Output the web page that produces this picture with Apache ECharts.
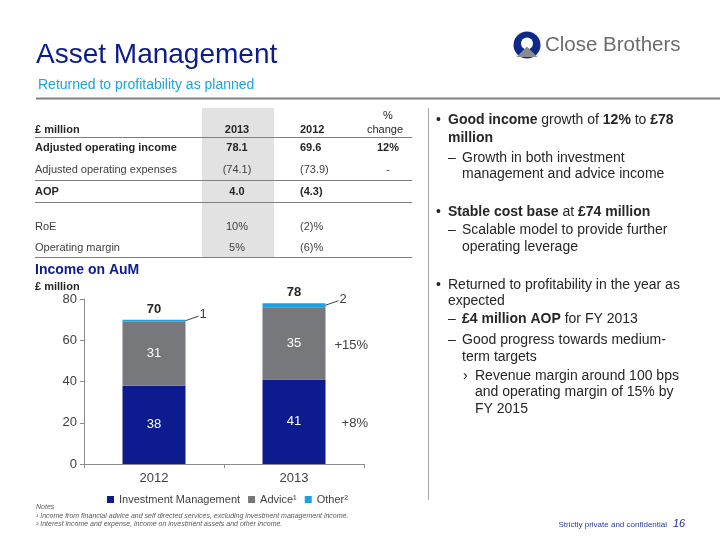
<!DOCTYPE html>
<html><head><meta charset="utf-8">
<script src="https://cdn.jsdelivr.net/npm/echarts@6/dist/echarts.min.js"></script>
<style>html,body{margin:0;padding:0;background:#fff}#c{width:720px;height:540px}</style>
</head><body><div id="c"></div>
<script>
// ---- chart data ----
const categories = ['2012', '2013'];
const investmentManagement = [38, 41];
const advice = [31, 35];
const other = [1, 2];
const totals = [70, 78];
const growthIM = '+8%';
const growthAdvice = '+15%';
const yMin = 0, yMax = 80, yStep = 20;

// ---- table data ----
const tableHeaders = ['£ million', '2013', '2012'];
const tableRowLabels = ['Adjusted operating income', 'Adjusted operating expenses', 'AOP', 'RoE', 'Operating margin'];
const table2013 = ['78.1', '(74.1)', '4.0', '10%', '5%'];
const table2012 = ['69.6', '(73.9)', '(4.3)', '(2)%', '(6)%'];
const tableChange = ['12%', '-', '', '', ''];
const tableBoldRows = [true, false, true, false, false];

// ---- text content ----
const bulletText = [
  '{b|Good income} growth of {b|12%} to {b|£78}',
  '{b|million}',
  'Growth in both investment',
  'management and advice income',
  '{b|Stable cost base} at {b|£74 million}',
  'Scalable model to provide further',
  'operating leverage',
  'Returned to profitability in the year as',
  'expected',
  '{b|£4 million AOP} for FY 2013',
  'Good progress towards medium-',
  'term targets',
  'Revenue margin around 100 bps',
  'and operating margin of 15% by',
  'FY 2015'
];
const bulletLevel = [1, 0, 2, 0, 1, 2, 0, 1, 0, 2, 2, 0, 3, 0, 0];
const bulletIndent = [1, 1, 2, 2, 1, 2, 2, 1, 1, 2, 2, 2, 3, 3, 3];

const F = 'Liberation Sans, Arial, sans-serif';
const C_IM = '#0c1c8f', C_ADV = '#77787b', C_OTH = '#1ba1e2';

const chart = echarts.init(document.getElementById('c'));
chart.setOption({
  animation: false,
  backgroundColor: '#fff',
  textStyle: { fontFamily: F },
  grid: { left: 84, right: 356, top: 299, bottom: 76 },
  legend: {
    left: 102, top: 489, itemWidth: 7, itemHeight: 7, itemGap: 8,
    icon: 'rect',
    textStyle: { fontFamily: F, fontSize: 11, color: '#404040' },
    formatter: function (n) { return n === 'Advice' ? 'Advice\u00b9' : (n === 'Other' ? 'Other\u00b2' : n); },
    data: ['Investment Management', 'Advice', 'Other']
  },
  xAxis: {
    type: 'category', data: categories,
    axisLine: { lineStyle: { color: '#8c8c8c' } },
    axisTick: { show: true, length: 4, lineStyle: { color: '#8c8c8c' } },
    axisLabel: { fontFamily: F, fontSize: 13, color: '#404040', margin: 8 }
  },
  yAxis: {
    type: 'value', min: yMin, max: yMax, interval: yStep,
    axisLine: { show: true, lineStyle: { color: '#8c8c8c' } },
    axisTick: { show: true, length: 4, lineStyle: { color: '#8c8c8c' } },
    splitLine: { show: false },
    axisLabel: { fontFamily: F, fontSize: 13, color: '#404040', margin: 7 }
  },
  series: [
    { name: 'Investment Management', type: 'bar', stack: 'a', data: investmentManagement, barWidth: 63,
      itemStyle: { color: C_IM },
      label: { show: true, position: 'inside', color: '#fff', fontFamily: F, fontSize: 13 } },
    { name: 'Advice', type: 'bar', stack: 'a', data: advice, barWidth: 63,
      itemStyle: { color: C_ADV },
      label: { show: true, position: 'inside', color: '#fff', fontFamily: F, fontSize: 13 } },
    { name: 'Other', type: 'bar', stack: 'a', data: other, barWidth: 63,
      itemStyle: { color: C_OTH },
      label: { show: true, position: 'top', distance: 4, color: '#262626', fontFamily: F, fontSize: 13, fontWeight: 'bold',
        formatter: function (p) { return String(totals[p.dataIndex]); } } }
  ]
});

// ---- graphics ----
const g = [];
function txt(x, y, text, o) {
  o = o || {};
  g.push({ type: 'text', x: x, y: y, silent: true, z: 10,
    style: Object.assign({ text: text, fontFamily: F, fontSize: 11, fill: '#404040', align: 'left', verticalAlign: 'middle' }, o) });
}
function line(x1, y1, x2, y2, color, w) {
  g.push({ type: 'line', silent: true, z: 5, shape: { x1: x1, y1: y1, x2: x2, y2: y2 }, style: { stroke: color, lineWidth: w || 1 } });
}

// title
txt(36, 55, 'Asset Management', { fontSize: 28, fill: '#0c1c8c' });
txt(38, 85, 'Returned to profitability as planned', { fontSize: 14, fill: '#1aa3e0' });
line(36, 98.5, 720, 98.5, '#808080', 2);

// logo
g.push({ type: 'circle', shape: { cx: 527, cy: 45, r: 13.5 }, style: { fill: '#0d2a8a' }, silent: true });
g.push({ type: 'circle', shape: { cx: 527, cy: 43.5, r: 6 }, style: { fill: '#fff' }, silent: true, z: 2 });
g.push({ type: 'polygon', shape: { points: [[527, 46.5], [537.5, 57], [516.5, 57]] }, style: { fill: '#8a8b8e' }, silent: true, z: 3 });
txt(545, 45, 'Close Brothers', { fontSize: 20.5, fill: '#6a6b6e' });

// table
g.push({ type: 'rect', shape: { x: 202, y: 108, width: 72, height: 149 }, style: { fill: '#e2e2e2' }, silent: true, z: 1 });
const rowY = [148, 170, 192, 227, 248];
txt(35, 130, tableHeaders[0], { fontWeight: 'bold', fill: '#262626' });
txt(237, 130, tableHeaders[1], { fontWeight: 'bold', fill: '#262626', align: 'center' });
txt(300, 130, tableHeaders[2], { fontWeight: 'bold', fill: '#262626' });
txt(388, 116, '%', { fill: '#262626', align: 'center' });
txt(385, 130, 'change', { fill: '#262626', align: 'center' });
for (let i = 0; i < tableRowLabels.length; i++) {
  const b = tableBoldRows[i];
  const st = { fontWeight: b ? 'bold' : 'normal', fill: b ? '#262626' : '#404040' };
  txt(35, rowY[i], tableRowLabels[i], st);
  txt(237, rowY[i], table2013[i], Object.assign({ align: 'center' }, st));
  txt(300, rowY[i], table2012[i], st);
  if (tableChange[i]) txt(388, rowY[i], tableChange[i], Object.assign({ align: 'center' }, st));
}
[137, 180, 202, 257].forEach(function (y) { line(35, y + 0.5, 412, y + 0.5, '#7f7f7f', 1); });

// chart titles
txt(35, 270, 'Income on AuM', { fontSize: 14, fontWeight: 'bold', fill: '#0c1c8c' });
txt(35, 287, '£ million', { fontSize: 11, fontWeight: 'bold', fill: '#262626' });

// annotations computed through the chart's scales
for (let i = 0; i < categories.length; i++) {
  const base = investmentManagement[i] + advice[i];
  const p = chart.convertToPixel({ gridIndex: 0 }, [i, base + other[i] / 2]);
  const x0 = p[0] + 31.5;
  line(x0, p[1], x0 + 13, p[1] - 4.5, '#404040', 1);
  txt(x0 + 14, p[1] - 6, String(other[i]), { fontSize: 13 });
}
const last = categories.length - 1;
const pa = chart.convertToPixel({ gridIndex: 0 }, [last, investmentManagement[last] + advice[last] / 2]);
const pi = chart.convertToPixel({ gridIndex: 0 }, [last, investmentManagement[last] / 2]);
txt(pa[0] + 74, pa[1] + 2, growthAdvice, { fontSize: 13, align: 'right' });
txt(pi[0] + 74, pi[1] + 2, growthIM, { fontSize: 13, align: 'right' });

// separator
line(428.5, 108, 428.5, 500, '#a6a6a6', 1);

// bullets
const lineY = [120, 138, 158, 174, 212, 230, 247, 285, 301, 319, 340, 357, 376, 392, 409];
const indentX = { 1: 448, 2: 462, 3: 475 };
const markX = { 1: 436, 2: 448, 3: 463 };
const marks = { 1: '\u2022', 2: '\u2013', 3: '\u203a' };
for (let i = 0; i < bulletText.length; i++) {
  const lv = bulletLevel[i];
  if (lv) txt(markX[lv], lineY[i], marks[lv], { fontSize: 14, fill: '#262626' });
  txt(indentX[bulletIndent[i]], lineY[i], bulletText[i], {
    fontSize: 14, fill: '#262626',
    rich: { b: { fontWeight: 'bold', fontSize: 14, fontFamily: F, fill: '#262626' } }
  });
}

// notes
txt(36, 507, 'Notes', { fontSize: 7, fontStyle: 'italic', fill: '#595959' });
txt(36, 516, '\u00b9 Income from financial advice and self directed services, excluding investment management income.', { fontSize: 7, fontStyle: 'italic', fill: '#595959' });
txt(36, 524, '\u00b2 Interest income and expense, income on investment assets and other income.', { fontSize: 7, fontStyle: 'italic', fill: '#595959' });

// footer
txt(667, 525, 'Strictly private and confidential', { fontSize: 8, fill: '#2a3aa0', align: 'right' });
txt(673, 524, '16', { fontSize: 11, fontStyle: 'italic', fill: '#1c2c94' });

chart.setOption({ graphic: g });
</script></body></html>
